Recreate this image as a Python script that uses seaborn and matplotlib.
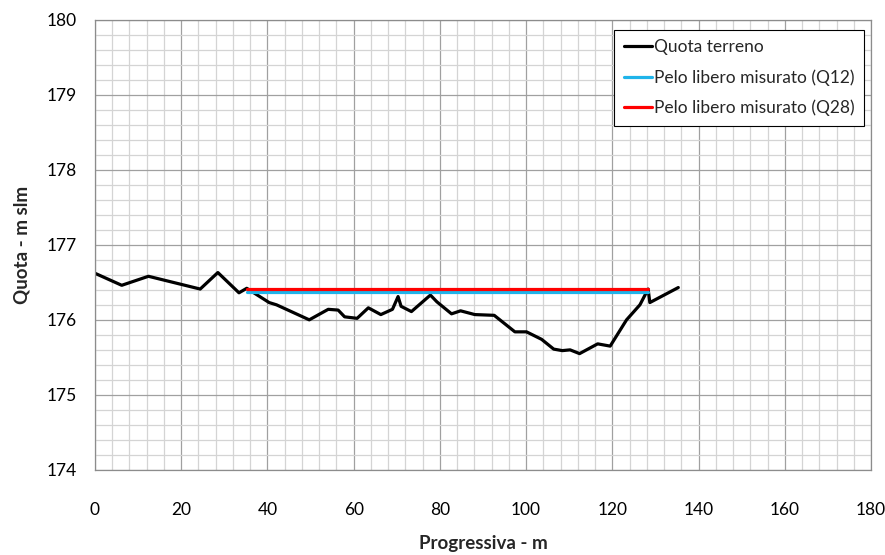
import matplotlib
matplotlib.use("Agg")
import matplotlib.pyplot as plt
from matplotlib.ticker import MultipleLocator
import numpy as np
import pandas as pd
import seaborn as sns

# Ground profile: chainage (m) and elevation (m a.s.l.)
progressiva = [0.0, 6.2, 12.4, 24.4, 28.5, 33.4, 35.2, 40.4, 42.1, 49.7,
               54.1, 56.4, 57.9, 60.8, 63.4, 66.3, 69.0, 70.3, 71.0, 73.4,
               77.8, 79.3, 82.7, 84.8, 88.1, 92.6, 97.4, 100.1, 103.6, 106.4,
               108.4, 110.2, 112.4, 116.6, 119.5, 123.3, 126.4, 128.3, 128.7, 135.3]
quota_terreno = [176.62, 176.46, 176.58, 176.41, 176.63, 176.36, 176.42, 176.23, 176.20, 176.00,
                 176.14, 176.13, 176.04, 176.02, 176.16, 176.07, 176.14, 176.31, 176.18, 176.11,
                 176.33, 176.24, 176.08, 176.12, 176.07, 176.06, 175.84, 175.84, 175.74, 175.61,
                 175.59, 175.60, 175.55, 175.68, 175.65, 176.00, 176.20, 176.41, 176.23, 176.43]

# Measured free-surface levels
pelo_x = [35.2, 128.3]
pelo_q12 = [176.37, 176.37]
pelo_q28 = [176.41, 176.41]

series_names = ["Quota terreno", "Pelo libero misurato (Q12)", "Pelo libero misurato (Q28)"]
series_colors = ["#000000", "#1fb4ea", "#ff0000"]

df = pd.concat([
    pd.DataFrame({"x": progressiva, "y": quota_terreno, "serie": series_names[0]}),
    pd.DataFrame({"x": pelo_x, "y": pelo_q12, "serie": series_names[1]}),
    pd.DataFrame({"x": pelo_x, "y": pelo_q28, "serie": series_names[2]}),
])

sns.set_theme(style="white")
plt.rcParams["font.family"] = ["Lato", "DejaVu Sans"]

fig = plt.figure(figsize=(8.85, 5.55), dpi=100)
ax = fig.add_axes([95 / 885, 1 - 470 / 555, (871 - 95) / 885, (470 - 19.5) / 555])

sns.lineplot(data=df, x="x", y="y", hue="serie", hue_order=series_names,
             palette=series_colors, sort=False, estimator=None,
             linewidth=2.3, ax=ax, legend=True)

ax.set_xlim(0, 180)
ax.set_ylim(174, 180)
ax.xaxis.set_major_locator(MultipleLocator(20))
ax.xaxis.set_minor_locator(MultipleLocator(4))
ax.yaxis.set_major_locator(MultipleLocator(1))
ax.yaxis.set_minor_locator(MultipleLocator(0.2))
ax.grid(which="minor", color="#d4d4d4", linewidth=0.9, zorder=0)
ax.grid(which="major", color="#a0a0a0", linewidth=0.9, zorder=0)
ax.set_axisbelow(True)

for s in ax.spines.values():
    s.set_color("#8c8c8c")
    s.set_linewidth(0.9)

ax.tick_params(axis="both", which="major", length=5, width=0.9, color="#8c8c8c",
               labelsize=12.5, labelcolor="#000000", direction="out")
ax.tick_params(axis="x", which="major", pad=18)
ax.tick_params(axis="y", which="major", pad=8)
ax.tick_params(which="minor", length=0)
ax.set_yticklabels([f"{int(v)}" for v in ax.get_yticks()])

ax.set_xlabel("Progressiva - m", fontsize=13.5, fontweight="bold", labelpad=12)
ax.set_ylabel("Quota - m slm", fontsize=13.5, fontweight="bold", labelpad=12)

leg = ax.legend(loc="upper right", bbox_to_anchor=(0.9955, 0.985), fontsize=12.5,
                frameon=True, fancybox=False, handlelength=1.65, handletextpad=0.08,
                labelspacing=0.8, borderpad=0.55, borderaxespad=0.2)
leg.get_frame().set_edgecolor("#000000")
leg.get_frame().set_linewidth(0.8)
leg.get_frame().set_facecolor("white")
leg.get_frame().set_alpha(1)
for h in leg.get_lines():
    h.set_linewidth(2.3)

fig.savefig("out.png", dpi=100)
